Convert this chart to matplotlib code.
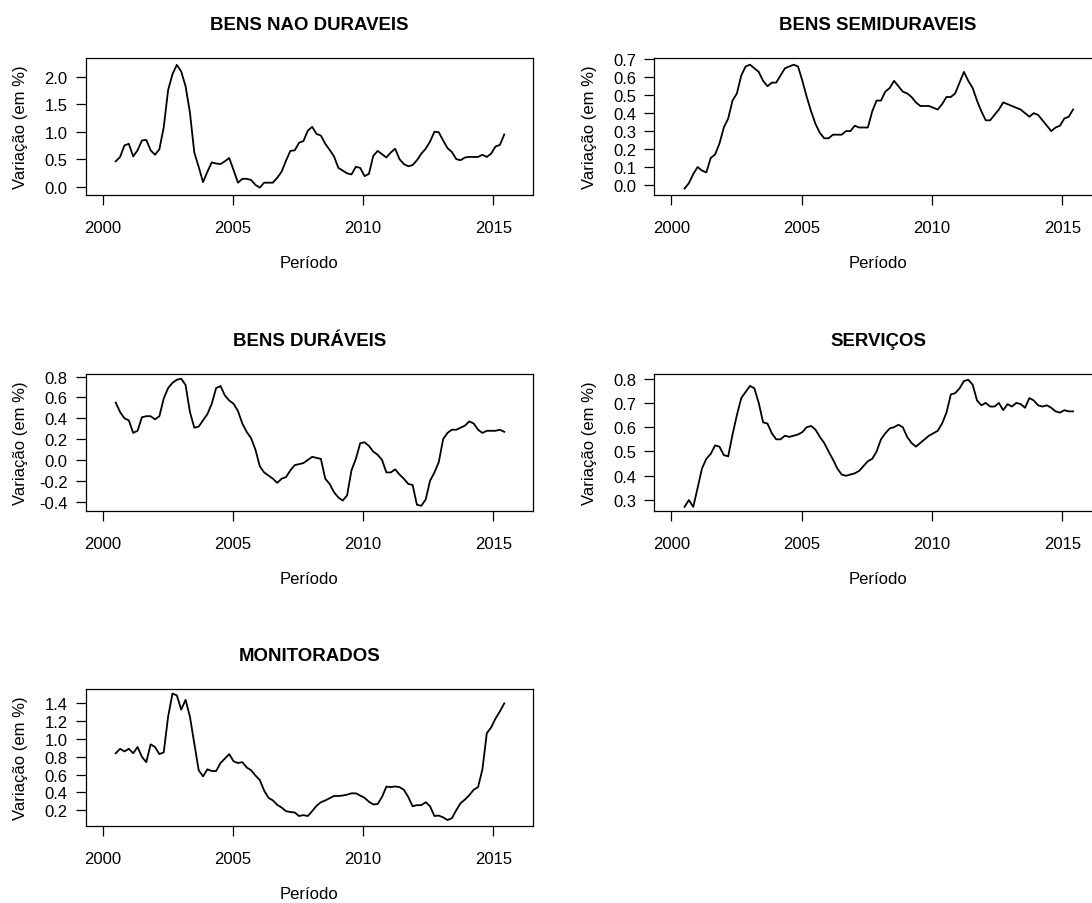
import numpy as np
import matplotlib
matplotlib.use('Agg')
import matplotlib.pyplot as plt

plt.rcParams['font.family'] = ['Liberation Sans', 'DejaVu Sans']
plt.rcParams['axes.unicode_minus'] = False

# Periodo: jul/2000 a jun/2015, observacoes bimestrais
periodo = np.linspace(2000 + 6/12, 2015 + 5/12, 90)

nao_duraveis = [
    0.46, 0.54, 0.75, 0.78, 0.55, 0.66, 0.84, 0.85, 0.66, 0.58,
    0.68, 1.08, 1.76, 2.05, 2.22, 2.10, 1.83, 1.35, 0.62, 0.36,
    0.08, 0.27, 0.44, 0.42, 0.41, 0.46, 0.52, 0.30, 0.07, 0.14,
    0.14, 0.12, 0.03, -0.02, 0.07, 0.07, 0.07, 0.16, 0.27, 0.47,
    0.65, 0.66, 0.80, 0.83, 1.02, 1.09, 0.96, 0.93, 0.78, 0.67,
    0.55, 0.34, 0.29, 0.24, 0.22, 0.36, 0.34, 0.19, 0.23, 0.56,
    0.65, 0.59, 0.53, 0.62, 0.69, 0.50, 0.41, 0.37, 0.39, 0.48,
    0.60, 0.69, 0.82, 1.00, 0.99, 0.84, 0.70, 0.63, 0.50, 0.48,
    0.53, 0.54, 0.54, 0.54, 0.58, 0.54, 0.60, 0.73, 0.76, 0.95,
]

semiduraveis = [
    -0.02, 0.01, 0.06, 0.10, 0.08, 0.07, 0.15, 0.17, 0.23, 0.32,
    0.37, 0.47, 0.51, 0.61, 0.66, 0.67, 0.65, 0.63, 0.58, 0.55,
    0.57, 0.57, 0.61, 0.65, 0.66, 0.67, 0.66, 0.58, 0.49, 0.41,
    0.34, 0.29, 0.26, 0.26, 0.28, 0.28, 0.28, 0.30, 0.30, 0.33,
    0.32, 0.32, 0.32, 0.41, 0.47, 0.47, 0.52, 0.54, 0.58, 0.55,
    0.52, 0.51, 0.49, 0.46, 0.44, 0.44, 0.44, 0.43, 0.42, 0.45,
    0.49, 0.49, 0.51, 0.57, 0.63, 0.58, 0.54, 0.47, 0.41, 0.36,
    0.36, 0.39, 0.42, 0.46, 0.45, 0.44, 0.43, 0.42, 0.40, 0.38,
    0.40, 0.39, 0.36, 0.33, 0.30, 0.32, 0.33, 0.37, 0.38, 0.42,
]

duraveis = [
    0.55, 0.46, 0.40, 0.38, 0.26, 0.28, 0.41, 0.42, 0.42, 0.39,
    0.42, 0.59, 0.69, 0.74, 0.77, 0.78, 0.72, 0.46, 0.31, 0.32,
    0.38, 0.44, 0.54, 0.69, 0.71, 0.62, 0.57, 0.54, 0.47, 0.35,
    0.27, 0.21, 0.10, -0.06, -0.12, -0.15, -0.18, -0.22, -0.18, -0.165,
    -0.10, -0.05, -0.04, -0.03, 0.00, 0.03, 0.02, 0.01, -0.18, -0.23,
    -0.31, -0.36, -0.39, -0.34, -0.10, 0.01, 0.16, 0.17, 0.135, 0.08,
    0.05, 0.00, -0.12, -0.12, -0.09, -0.14, -0.18, -0.23, -0.24, -0.43,
    -0.44, -0.38, -0.20, -0.12, -0.02, 0.20, 0.26, 0.29, 0.29, 0.31,
    0.33, 0.37, 0.35, 0.29, 0.26, 0.28, 0.28, 0.28, 0.29, 0.27,
]

servicos = [
    0.272, 0.30, 0.272, 0.35, 0.43, 0.47, 0.49, 0.525, 0.52, 0.485,
    0.48, 0.57, 0.65, 0.72, 0.745, 0.77, 0.76, 0.70, 0.62, 0.615,
    0.575, 0.55, 0.55, 0.565, 0.56, 0.565, 0.57, 0.58, 0.60, 0.605,
    0.59, 0.56, 0.535, 0.50, 0.467, 0.43, 0.405, 0.40, 0.405, 0.41,
    0.42, 0.44, 0.46, 0.47, 0.50, 0.55, 0.575, 0.595, 0.60, 0.61,
    0.60, 0.56, 0.535, 0.52, 0.535, 0.55, 0.565, 0.575, 0.585, 0.615,
    0.66, 0.735, 0.74, 0.76, 0.79, 0.795, 0.775, 0.71, 0.69, 0.70,
    0.685, 0.685, 0.70, 0.67, 0.695, 0.685, 0.70, 0.695, 0.68, 0.72,
    0.71, 0.69, 0.685, 0.69, 0.68, 0.665, 0.66, 0.67, 0.665, 0.665,
]

monitorados = [
    0.84, 0.89, 0.86, 0.89, 0.84, 0.91, 0.80, 0.74, 0.94, 0.91,
    0.83, 0.85, 1.25, 1.51, 1.49, 1.33, 1.44, 1.25, 0.95, 0.65,
    0.58, 0.66, 0.64, 0.64, 0.73, 0.78, 0.83, 0.75, 0.73, 0.74,
    0.68, 0.65, 0.59, 0.54, 0.42, 0.34, 0.31, 0.26, 0.23, 0.19,
    0.18, 0.175, 0.135, 0.145, 0.135, 0.19, 0.25, 0.29, 0.31, 0.335,
    0.36, 0.36, 0.365, 0.375, 0.39, 0.39, 0.365, 0.34, 0.295, 0.265,
    0.27, 0.35, 0.465, 0.46, 0.467, 0.46, 0.43, 0.35, 0.245, 0.257,
    0.257, 0.29, 0.245, 0.135, 0.14, 0.12, 0.09, 0.11, 0.20, 0.28,
    0.32, 0.37, 0.43, 0.46, 0.66, 1.065, 1.13, 1.23, 1.31, 1.40,
]

titulos = ['BENS NAO DURAVEIS', 'BENS SEMIDURAVEIS', 'BENS DURÁVEIS',
           'SERVIÇOS', 'MONITORADOS']
series = [nao_duraveis, semiduraveis, duraveis, servicos, monitorados]
yticks = [np.arange(0, 2.01, 0.5), np.arange(0, 0.71, 0.1),
          np.arange(-0.4, 0.81, 0.2), np.arange(0.3, 0.81, 0.1),
          np.arange(0.2, 1.41, 0.2)]
ylims = [(-0.155, 2.355), (-0.056, 0.71), (-0.49, 0.83),
         (0.255, 0.821), (0.023, 1.567)]
anos = [2000, 2005, 2010, 2015]

# geometria em pixels (figura 1092 x 904)
W, H = 1092, 904
col_x = [85.5, 654.3]
row_top = [58.5, 374.5, 689.5]
aw, ah = 447.5, 137.5

fig = plt.figure(figsize=(W/100, H/100), dpi=100)

for i, (tit, y) in enumerate(zip(titulos, series)):
    r, c = divmod(i, 2)
    ax = fig.add_axes([col_x[c]/W, 1 - (row_top[r] + ah)/H, aw/W, ah/H])
    ax.plot(periodo, y, color='black', lw=1.3)
    ax.set_xlim(1999.34, 2016.52)
    ax.set_ylim(*ylims[i])
    ax.set_xticks(anos)
    ax.set_yticks(yticks[i])
    ax.set_yticklabels(['%.1f' % v for v in yticks[i]])
    ax.tick_params(axis='both', direction='out', length=7, width=0.9,
                   labelsize=12, color='black')
    ax.tick_params(axis='x', pad=11)
    ax.tick_params(axis='y', pad=6)
    for s in ax.spines.values():
        s.set_linewidth(0.9)
    ax.set_title(tit, fontsize=13.4, fontweight='bold', pad=20.5)
    ax.set_xlabel('Período', fontsize=12)
    ax.xaxis.set_label_coords(0.5, -60/ah)
    ax.set_ylabel('Variação (em %)', fontsize=12)
    ax.yaxis.set_label_coords(-57/aw, 0.5)

fig.savefig('out.png', dpi=100)
